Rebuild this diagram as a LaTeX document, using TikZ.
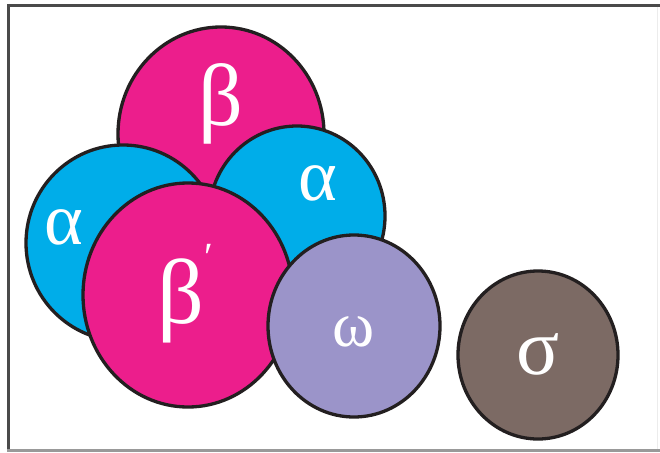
\documentclass[tikz,border=0pt]{standalone}
\usepackage{fontspec}
\setmainfont{Liberation Serif}
\definecolor{magentaC}{HTML}{EC1E8C}
\definecolor{cyanC}{HTML}{00ADE9}
\definecolor{lavC}{HTML}{9B94C9}
\definecolor{brownC}{HTML}{7C6A64}
\definecolor{edgeC}{HTML}{231F20}
\definecolor{frameC}{HTML}{4A4A4A}
\tikzset{
  blob/.style={draw=edgeC, line width=3.3pt},
  lbl/.style={text=white, inner sep=0pt, anchor=center},
}
\begin{document}
\begin{tikzpicture}[x=1pt,y=-1pt]
\useasboundingbox (0,0) rectangle (660,452);
\fill[white] (0,0) rectangle (660,452);
% frame
\draw[frameC, line width=3.5pt] (7,5.5) -- (660,5.5);
\draw[frameC, line width=3pt] (8.5,4) -- (8.5,452);
\draw[gray!80, line width=2.5pt] (7,450.5) -- (660,450.5);
\draw[gray!15, line width=1pt] (657,7) -- (657,449);
% circles (back to front)
\fill[magentaC] (221,134) ellipse [x radius=103, y radius=107];
\draw[blob] (221,134) ellipse [x radius=103, y radius=107];
\fill[cyanC] (123,243) ellipse [x radius=97, y radius=98];
\draw[blob] (123,243) ellipse [x radius=97, y radius=98];
\fill[cyanC] (297,216) ellipse [x radius=88, y radius=90];
\draw[blob] (297,216) ellipse [x radius=88, y radius=90];
\fill[magentaC] (188,295) ellipse [x radius=105, y radius=112];
\draw[blob] (188,295) ellipse [x radius=105, y radius=112];
\fill[lavC] (354,326) ellipse [x radius=86, y radius=91];
\draw[blob] (354,326) ellipse [x radius=86, y radius=91];
\fill[brownC] (538,355) ellipse [x radius=80, y radius=84];
\draw[blob] (538,355) ellipse [x radius=80, y radius=84];
% labels
\node[lbl, font=\fontsize{88}{88}\selectfont] (b1) at (221,104) {β};
\node[lbl, font=\fontsize{74}{74}\selectfont] (a1) at (64,227) {α};
\node[lbl, font=\fontsize{74}{74}\selectfont] (a2) at (318,183) {α};
\node[lbl, font=\fontsize{92}{92}\selectfont] (b2) at (181,301) {β\rlap{\smash{\raisebox{53pt}{\kern0pt\fontsize{40}{40}\selectfont ′}}}};
\node[lbl, font=\fontsize{64}{64}\selectfont] (w) at (354,332) {ω};
\node[lbl, font=\fontsize{80}{80}\selectfont] (s) at (538,354) {σ};
\end{tikzpicture}
\end{document}
